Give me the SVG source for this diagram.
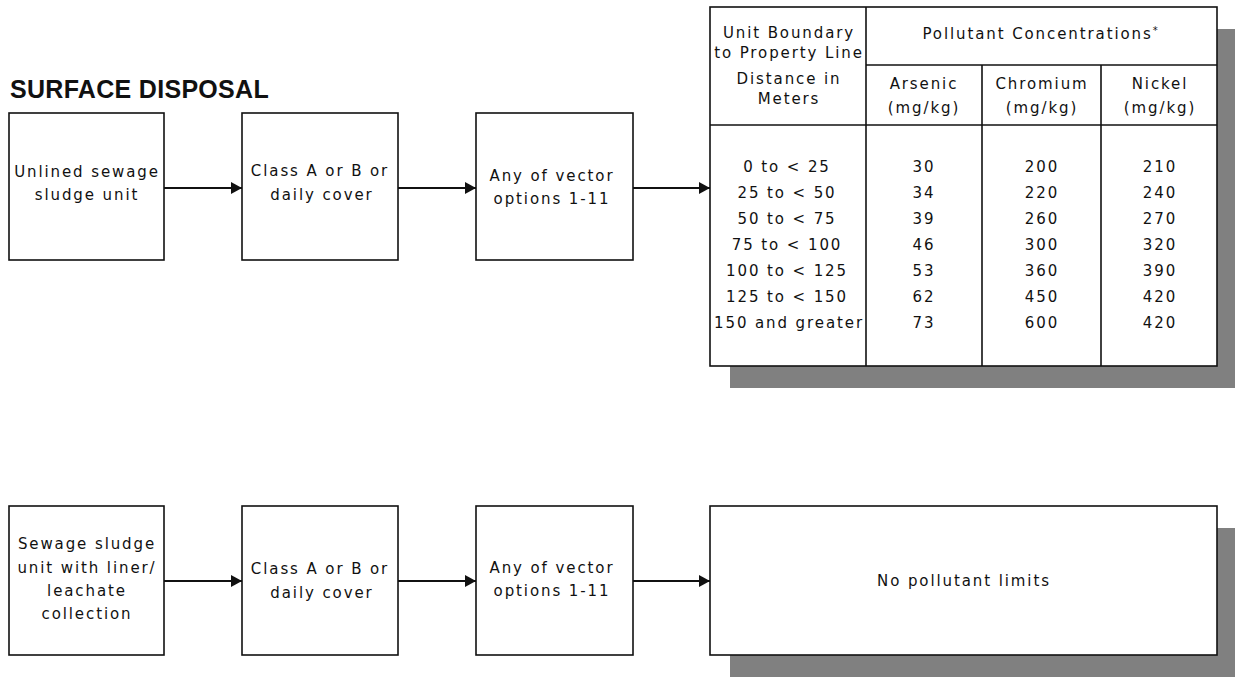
<svg xmlns="http://www.w3.org/2000/svg" width="1235" height="677" viewBox="0 0 1235 677">
<style>
.bg{fill:#ffffff}
.box{fill:#ffffff;stroke:#111111;stroke-width:1.6}
.shadow{fill:#808080}
.grid{stroke:#111111;stroke-width:1.6;fill:none}
.t{font-family:"DejaVu Sans","Liberation Sans",sans-serif;font-size:15px;letter-spacing:1.9px;fill:#111111;text-anchor:middle}
.title{font-family:"Liberation Sans",Arial,sans-serif;font-size:25px;font-weight:bold;letter-spacing:0.3px;fill:#111111}
.conn{stroke:#111111;stroke-width:1.8;fill:none;marker-end:url(#arrow)}
</style>
<defs>
<marker id="arrow" markerUnits="userSpaceOnUse" markerWidth="12" markerHeight="14" refX="11" refY="6" orient="auto">
<path d="M0,0 L11,6 L0,12 z" fill="#111111"/>
</marker>
</defs>
<rect class="bg" x="0" y="0" width="1235" height="677"/>

<text class="title" x="10" y="98">SURFACE DISPOSAL</text>

<g id="unlined">
<rect class="box" x="9" y="113" width="155" height="147"/>
<text class="t" x="87" y="177">Unlined sewage</text>
<text class="t" x="87" y="200">sludge unit</text>
</g>
<g id="classAB-1">
<rect class="box" x="242" y="113" width="156" height="147"/>
<text class="t" x="320" y="176">Class A or B or</text>
<text class="t" x="322" y="200">daily cover</text>
</g>
<g id="vector-1">
<rect class="box" x="476" y="113" width="157" height="147"/>
<text class="t" x="552" y="181">Any of vector</text>
<text class="t" x="552" y="204">options 1-11</text>
</g>

<g id="table">
<rect class="shadow" x="730" y="29" width="507" height="359"/>
<rect class="box" x="710" y="7" width="507" height="359"/>
<line class="grid" x1="866" y1="7" x2="866" y2="366"/>
<line class="grid" x1="866" y1="65" x2="1217" y2="65"/>
<line class="grid" x1="710" y1="125" x2="1217" y2="125"/>
<line class="grid" x1="982" y1="65" x2="982" y2="366"/>
<line class="grid" x1="1101" y1="65" x2="1101" y2="366"/>
<text class="t" x="789" y="38">Unit Boundary</text>
<text class="t" x="789" y="58">to Property Line</text>
<text class="t" x="789" y="84">Distance in</text>
<text class="t" x="789" y="104">Meters</text>
<text class="t" x="1041" y="39">Pollutant Concentrations<tspan font-size="10" dy="-5">*</tspan></text>
<text class="t" x="924" y="89">Arsenic</text>
<text class="t" x="924" y="113">(mg/kg)</text>
<text class="t" x="1042" y="89">Chromium</text>
<text class="t" x="1042" y="113">(mg/kg)</text>
<text class="t" x="1160" y="89">Nickel</text>
<text class="t" x="1160" y="113">(mg/kg)</text>
<text class="t" x="787" y="172">0 to &lt; 25</text>
<text class="t" x="787" y="198">25 to &lt; 50</text>
<text class="t" x="787" y="224">50 to &lt; 75</text>
<text class="t" x="787" y="250">75 to &lt; 100</text>
<text class="t" x="787" y="276">100 to &lt; 125</text>
<text class="t" x="787" y="302">125 to &lt; 150</text>
<text class="t" x="789" y="328">150 and greater</text>
<text class="t" x="924" y="172">30</text>
<text class="t" x="924" y="198">34</text>
<text class="t" x="924" y="224">39</text>
<text class="t" x="924" y="250">46</text>
<text class="t" x="924" y="276">53</text>
<text class="t" x="924" y="302">62</text>
<text class="t" x="924" y="328">73</text>
<text class="t" x="1042" y="172">200</text>
<text class="t" x="1042" y="198">220</text>
<text class="t" x="1042" y="224">260</text>
<text class="t" x="1042" y="250">300</text>
<text class="t" x="1042" y="276">360</text>
<text class="t" x="1042" y="302">450</text>
<text class="t" x="1042" y="328">600</text>
<text class="t" x="1160" y="172">210</text>
<text class="t" x="1160" y="198">240</text>
<text class="t" x="1160" y="224">270</text>
<text class="t" x="1160" y="250">320</text>
<text class="t" x="1160" y="276">390</text>
<text class="t" x="1160" y="302">420</text>
<text class="t" x="1160" y="328">420</text>
</g>

<g id="lined">
<rect class="box" x="9" y="506" width="155" height="149"/>
<text class="t" x="87" y="549">Sewage sludge</text>
<text class="t" x="87" y="573">unit with liner/</text>
<text class="t" x="87" y="596">leachate</text>
<text class="t" x="87" y="619">collection</text>
</g>
<g id="classAB-2">
<rect class="box" x="242" y="506" width="156" height="149"/>
<text class="t" x="320" y="574">Class A or B or</text>
<text class="t" x="322" y="598">daily cover</text>
</g>
<g id="vector-2">
<rect class="box" x="476" y="506" width="157" height="149"/>
<text class="t" x="552" y="573">Any of vector</text>
<text class="t" x="552" y="596">options 1-11</text>
</g>
<g id="nolimits">
<rect class="shadow" x="730" y="528" width="507" height="149"/>
<rect class="box" x="710" y="506" width="507" height="149"/>
<text class="t" x="964" y="586">No pollutant limits</text>
</g>

<g id="connectors">
<line class="conn" x1="164" y1="188" x2="242" y2="188"/>
<line class="conn" x1="398" y1="188" x2="476" y2="188"/>
<line class="conn" x1="633" y1="188" x2="710" y2="188"/>
<line class="conn" x1="164" y1="581" x2="242" y2="581"/>
<line class="conn" x1="398" y1="581" x2="476" y2="581"/>
<line class="conn" x1="633" y1="581" x2="710" y2="581"/>
</g>
</svg>
